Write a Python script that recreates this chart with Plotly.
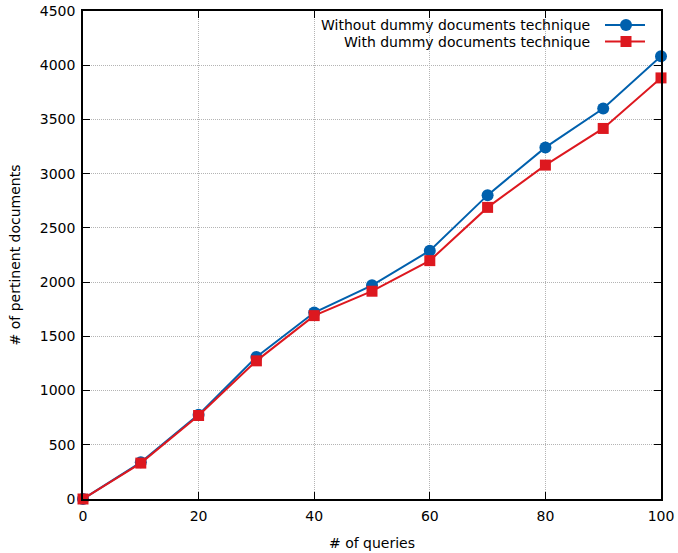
import plotly.graph_objects as go

queries = [0, 10, 20, 30, 40, 50, 60, 70, 80, 90, 100]
without_dummy = [0, 338, 778, 1310, 1719, 1970, 2290, 2802, 3242, 3601, 4083]
with_dummy = [0, 331, 770, 1274, 1691, 1916, 2198, 2689, 3079, 3417, 3883]
series_names = ["Without dummy documents technique", "With dummy documents technique"]

BLUE = "#0060ad"
RED = "#dd181f"
FONT = "DejaVu Sans"
FS = 14

fig = go.Figure()
fig.add_trace(go.Scatter(x=queries, y=without_dummy, mode="lines+markers",
                         name=series_names[0], cliponaxis=False,
                         line=dict(color=BLUE, width=2),
                         marker=dict(symbol="circle", size=12, color=BLUE)))
fig.add_trace(go.Scatter(x=queries, y=with_dummy, mode="lines+markers",
                         name=series_names[1], cliponaxis=False,
                         line=dict(color=RED, width=2),
                         marker=dict(symbol="square", size=11, color=RED)))

W, H = 678, 553
ml, mr, mt, mb = 83, 17, 11, 54

axis_common = dict(showline=True, linecolor="black", linewidth=1.5, mirror="ticks",
                   ticks="inside", ticklen=7, tickwidth=1.2, tickcolor="black",
                   showgrid=True, gridcolor="#b4b4b4", gridwidth=1, griddash="1px,1px",
                   zeroline=False, automargin=False,
                   tickfont=dict(family=FONT, size=FS, color="black"))

fig.update_xaxes(range=[0, 100], tickvals=[0, 20, 40, 60, 80, 100], ticklabelstandoff=3,
                 title=dict(text="# of queries", font=dict(family=FONT, size=FS, color="black"), standoff=16),
                 **axis_common)
fig.update_yaxes(range=[0, 4500], tickvals=list(range(0, 4501, 500)), ticklabelstandoff=3,
                 title=dict(text="# of pertinent documents", font=dict(family=FONT, size=FS, color="black"), standoff=16),
                 **axis_common)

# custom gnuplot-style legend (text left, sample right)
def px_x(p):
    return (p - ml) / (W - ml - mr)

def px_y(p):
    return 1 - (p - mt) / (H - mt - mb)

legend_rows = [(series_names[0], BLUE, "circle", 25), (series_names[1], RED, "rect", 41.5)]
for name, col, shp, yp in legend_rows:
    fig.add_annotation(x=px_x(592), y=px_y(yp), xref="paper", yref="paper",
                       text=name, showarrow=False, xanchor="right", yanchor="middle",
                       font=dict(family=FONT, size=FS, color="black"))
    fig.add_shape(type="line", xref="paper", yref="paper",
                  x0=px_x(605), x1=px_x(645), y0=px_y(yp), y1=px_y(yp),
                  line=dict(color=col, width=2))
    half = 6 if shp == "circle" else 5.5
    fig.add_shape(type=shp, xref="paper", yref="paper",
                  xsizemode="pixel", ysizemode="pixel",
                  xanchor=px_x(626), yanchor=px_y(yp),
                  x0=-half, x1=half, y0=-half, y1=half,
                  fillcolor=col, line=dict(color=col, width=0))

fig.update_layout(width=W, height=H, margin=dict(l=ml, r=mr, t=mt, b=mb),
                  plot_bgcolor="white", paper_bgcolor="white", showlegend=False,
                  font=dict(family=FONT, size=FS, color="black"))

fig.write_html("out.html", config={"displayModeBar": False},
               post_script="document.body.style.margin='0';document.body.style.overflow='hidden';")
